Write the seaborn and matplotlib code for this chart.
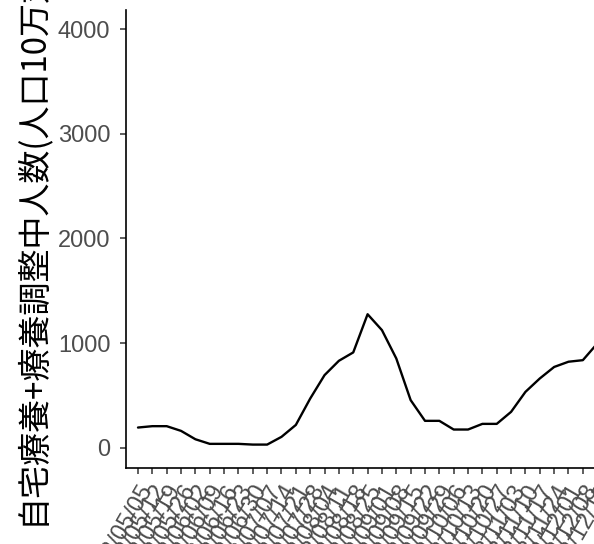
import numpy as np
import pandas as pd
import matplotlib
matplotlib.use("Agg")
import matplotlib.pyplot as plt
import seaborn as sns

# weekly values (home care + waiting for placement, per 100k)
dates = ["2022/05/05", "2022/05/12", "2022/05/19", "2022/05/26", "2022/06/02", "2022/06/09",
         "2022/06/16", "2022/06/23", "2022/06/30", "2022/07/07", "2022/07/14", "2022/07/21",
         "2022/07/28", "2022/08/04", "2022/08/11", "2022/08/18", "2022/08/25", "2022/09/01",
         "2022/09/08", "2022/09/15", "2022/09/22", "2022/09/29", "2022/10/06", "2022/10/13",
         "2022/10/20", "2022/10/27", "2022/11/03", "2022/11/10", "2022/11/17", "2022/11/24",
         "2022/12/01", "2022/12/08", "2022/12/15"]
values = [193, 206, 206, 161, 81, 37, 37, 37, 30, 30, 104, 218,
          470, 694, 831, 911, 1276, 1124, 853, 455, 257, 257, 174, 174,
          228, 228, 343, 534, 662, 772, 822, 837, 995]
y_ticks = [0, 1000, 2000, 3000, 4000]
y_label = "自宅療養+療養調整中人数(人口10万対)"

df = pd.DataFrame({"date": dates, "value": values})
df["pos"] = np.arange(len(df))

sns.set_theme(style="ticks")
plt.rcParams["font.family"] = ["Liberation Sans", "DejaVu Sans"]

W, H = 594, 544
fig = plt.figure(figsize=(W / 100, H / 100), dpi=100)
# axes runs past the right edge (the reference is cropped there)
left_px, right_px, top_px, bot_px = 126, 712, 10, 467.5
ax = fig.add_axes([left_px / W, (H - bot_px) / H, (right_px - left_px) / W, (bot_px - top_px) / H])

sns.lineplot(data=df, x="pos", y="value", color="black", linewidth=1.7, ax=ax)

ax.set_xlim(-0.836, 40)
ax.set_ylim(-189, 4184)
ax.set_xticks(df["pos"])
ax.set_xticklabels(df["date"])
ax.set_yticks(y_ticks)
ax.set_yticklabels([str(v) for v in y_ticks])

for s in ["top", "right"]:
    ax.spines[s].set_visible(False)
for s in ["left", "bottom"]:
    ax.spines[s].set_linewidth(1.2)
    ax.spines[s].set_color("black")

ax.tick_params(axis="both", length=4.3, width=1.1, color="#333333",
               labelcolor="#4D4D4D", labelsize=17)
ax.tick_params(axis="y", pad=7)
ax.tick_params(axis="x", pad=5)
for lab in ax.get_xticklabels():
    lab.set_rotation(60)
    lab.set_ha("right")
    lab.set_va("top")
    lab.set_rotation_mode("anchor")

ax.set_xlabel("")
ax.set_ylabel(y_label, fontsize=23.8, color="black",
              family=["Noto Sans CJK JP", "DejaVu Sans"])
ax.yaxis.set_label_coords((49 - left_px) / (right_px - left_px), 0.5)

fig.savefig("out.png", dpi=100)
